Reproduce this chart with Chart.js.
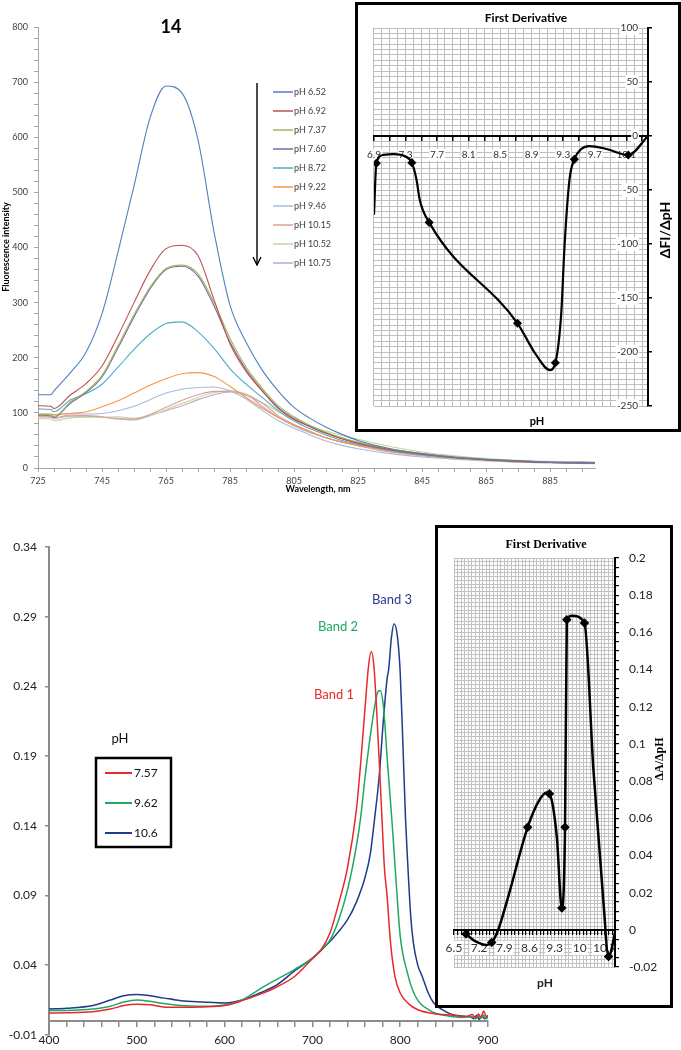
<!DOCTYPE html>
<html><head><meta charset="utf-8">
<script src="https://cdn.jsdelivr.net/npm/chart.js@4.4.1/dist/chart.umd.min.js"></script>
<style>
html,body{margin:0;padding:0;background:#fff;}
#page{position:relative;width:681px;height:1050px;overflow:hidden;background:#fff;}
canvas{position:absolute;display:block;}
.box{position:absolute;box-sizing:border-box;border:3px solid #000;background:#fff;}
.box canvas{left:0;top:0;}
</style></head><body>
<div id="page">
 <canvas id="c1" width="681" height="500" style="left:0;top:0"></canvas>
 <canvas id="c3" width="681" height="530" style="left:0;top:520px"></canvas>
 <div class="box" style="left:355px;top:2px;width:326px;height:430px"><canvas id="c2" width="320" height="424"></canvas></div>
 <div class="box" style="left:435px;top:525px;width:238px;height:483px"><canvas id="c4" width="232" height="477"></canvas></div>
</div>
<script>
// ---------------- DATA ----------------
// Top: fluorescence spectra
const topWavelength = [725,729,730,735,740,745,750,755,760,765,770,775,780,785,790,795,800,805,810,815,820,825,835,845,855,865,875,885,899];
const topLabels = ['pH 6.52','pH 6.92','pH 7.37','pH 7.60','pH 8.72','pH 9.22','pH 9.46','pH 10.15','pH 10.52','pH 10.75'];
const topColors = ['#4F81BD','#C0504D','#9BBB59','#8064A2','#4BACC6','#F79646','#A3BCDD','#DE9E9C','#C3D69B','#B9A9CF'];
const fl_652  = [133,133,140,172,210,280,392,512,635,693,680,595,428,295,228,178,140,110,90,74,61,50,35,26,20,16,13,11,10];
const fl_692  = [113,112,108,132,153,185,240,300,358,398,404,385,305,225,175,140,108,88,75,63,53,45,33,25,19,15,12,10,9];
const fl_737  = [97,96,93,119,139,168,222,278,328,362,368,352,300,235,183,145,113,93,77,65,55,47,35,26,20,16,13,11,10];
const fl_760  = [96,95,92,117,137,165,218,274,325,360,366,348,294,228,178,141,110,90,75,63,53,45,34,25,19,15,12,10,9];
const fl_872  = [107,106,102,123,135,152,183,215,243,262,265,247,217,180,152,128,104,85,71,60,50,43,32,24,19,15,12,10,9];
const fl_922  = [98,98,97,99,102,111,122,136,150,162,171,173,166,148,128,109,92,78,66,55,47,41,30,23,18,14,11,10,9];
const fl_946  = [98,97,96,99,98,99,104,112,124,136,143,146,147,140,125,105,86,72,60,49,41,35,26,20,16,13,11,9,8];
const fl_1015 = [93,93,91,96,95,93,89,89,97,110,123,133,139,139,132,118,95,79,66,55,47,40,29,22,17,14,11,10,9];
const fl_1052 = [90,89,86,91,92,92,93,90,95,106,117,128,137,140,134,119,102,88,76,67,59,52,39,29,22,17,14,12,11];
const fl_1075 = [93,92,90,94,94,92,90,87,95,104,113,124,133,138,134,112,92,76,64,55,47,42,31,24,18,14,12,10,9];
const topSeries = [fl_652,fl_692,fl_737,fl_760,fl_872,fl_922,fl_946,fl_1015,fl_1052,fl_1075];
const topXLabels = [725,745,765,785,805,825,845,865,885];
const topYLabels = [0,100,200,300,400,500,600,700,800];

// Top inset: first derivative dFI/dpH
const derivPH  = [6.9,6.93,7.02,7.15,7.3,7.38,7.44,7.48,7.6,8.72,8.95,9.13,9.2,9.275,9.316,9.379,9.441,9.53,9.63,9.85,10.125,10.375];
const derivVal = [-73,-25.3,-17.5,-16.7,-19,-24.7,-40.7,-59,-80,-173.4,-202,-216.7,-210,-164,-102.5,-40.7,-21.6,-12,-9.3,-12,-17.6,0];
const derivMarkers = [1,5,8,9,12,16,20];
const topInsetXLabels = [6.9,7.3,7.7,8.1,8.5,8.9,9.3,9.7,10.1];
const topInsetYLabels = [-250,-200,-150,-100,-50,0,50,100];

// Bottom: absorption spectra
const wlRed   = [400,420,450,470,485,500,515,530,550,575,600,620,640,660,680,700,710,720,730,740,750,755,760,764,767,770,773,775,777,780,782,785,789,794,800,810,820,840,860,875,882,886,889,892,895,898,900];
const absRed  = [0.0057,0.0058,0.0066,0.0085,0.0110,0.0120,0.0115,0.0100,0.0097,0.0100,0.0110,0.0145,0.0190,0.0245,0.0320,0.0446,0.0510,0.0630,0.0845,0.1100,0.1510,0.1850,0.2250,0.2550,0.2650,0.2550,0.2250,0.2000,0.1750,0.1350,0.1100,0.0900,0.0560,0.0320,0.0200,0.0120,0.0080,0.0050,0.0040,0.0030,0.0045,0.0020,0.0050,0.0025,0.0070,0.0030,0.0040];
const wlGreen = [400,420,450,470,485,500,515,530,550,575,600,620,640,660,680,700,710,720,730,740,750,755,760,765,770,774,777,781,785,788,791,795,800,808,817,834,850,870,882,886,889,892,895,898,900];
const absGreen= [0.0074,0.0075,0.0085,0.0105,0.0135,0.0150,0.0140,0.0125,0.0110,0.0105,0.0114,0.0150,0.0228,0.0300,0.0370,0.0450,0.0510,0.0580,0.0726,0.0940,0.1250,0.1460,0.1750,0.2000,0.2220,0.2350,0.2370,0.2250,0.1900,0.1650,0.1400,0.1030,0.0610,0.0350,0.0180,0.0074,0.0040,0.0025,0.0030,0.0015,0.0035,0.0020,0.0040,0.0015,0.0030];
const wlBlue  = [400,420,450,470,485,500,515,530,550,575,600,620,640,660,680,700,720,740,750,760,766,771,776,781,785,787,790,793,797,800,803,806,808,812,815,820,825,832,838,848,857,870,880,884,887,890,893,896,900];
const absBlue = [0.0085,0.0090,0.0110,0.0150,0.0180,0.0190,0.0180,0.0165,0.0145,0.0135,0.0128,0.0150,0.0200,0.0260,0.0360,0.0450,0.0570,0.0726,0.0850,0.1030,0.1200,0.1460,0.1750,0.2170,0.2450,0.2530,0.2750,0.2850,0.2750,0.2500,0.2000,0.1460,0.1200,0.0750,0.0560,0.0400,0.0320,0.0200,0.0130,0.0080,0.0050,0.0035,0.0030,0.0015,0.0040,0.0010,0.0035,0.0015,0.0030];
const bottomLabels = ['7.57','9.62','10.6'];
const bottomColors = ['#E8292C','#1FA864','#1F3B8A'];
const bottomXLabels = [400,500,600,700,800,900];
const bottomYLabels = [-0.01,0.04,0.09,0.14,0.19,0.24,0.29,0.34];
const bandLabels = ['Band 1','Band 2','Band 3'];

// Bottom inset: first derivative dA/dpH
const bDerivPH  = [6.834,7.1,7.41,7.55,7.73,8.01,8.55,8.85,9.08,9.155,9.36,9.5,9.59,9.64,9.78,10.13,10.38,10.66,10.8,11.0];
const bDerivVal = [-0.0023,-0.0062,-0.0081,-0.0068,0,0.0179,0.0552,0.069,0.0739,0.0732,0.0502,0.0117,0.0552,0.1668,0.1689,0.165,0.086,0.0144,-0.0144,0];
const bDerivMarkers = [0,3,6,9,11,12,13,15,18];
const bottomInsetXLabels = [6.5,7.2,7.9,8.6,9.3,10,10.7];
const bottomInsetYLabels = [-0.02,0,0.02,0.04,0.06,0.08,0.1,0.12,0.14,0.16,0.18,0.2];

// ---------------- HELPERS ----------------
const SANS = "Lato, 'Open Sans', sans-serif";
const SERIF = "'Liberation Serif', 'DejaVu Serif', serif";
Chart.defaults.font.family = SANS;
const rnd = (v, d) => Math.round(v * Math.pow(10, d)) / Math.pow(10, d);
function range(a, b, step, d) { const out = []; for (let i = 0; ; i++) { const v = rnd(a + i * step, d); if (v > b + 1e-9) break; out.push(v); } return out; }
const has = (arr, v) => arr.some(a => Math.abs(a - v) < 1e-6);
const setTicks = vals => s => { s.ticks = vals.map(v => ({value: v})); };
function txt(ctx, s, x, y, font, color, opt) {
  opt = opt || {};
  ctx.save(); ctx.font = font; ctx.fillStyle = color; ctx.textAlign = opt.align || 'center'; ctx.textBaseline = 'middle';
  ctx.translate(x, y); if (opt.rot) ctx.rotate(opt.rot); ctx.fillText(s, 0, 0); ctx.restore();
}
function line(ctx, pts, color, w) {
  ctx.save(); ctx.strokeStyle = color; ctx.lineWidth = w; ctx.beginPath();
  pts.forEach((p, i) => i ? ctx.lineTo(p[0], p[1]) : ctx.moveTo(p[0], p[1])); ctx.stroke(); ctx.restore();
}
const base = { responsive: false, animation: false, events: [], plugins: { legend: {display: false}, tooltip: {enabled: false} } };

// ---------------- CHART 1: fluorescence ----------------
new Chart(document.getElementById('c1'), {
  type: 'line',
  data: { datasets: topSeries.map((vals, i) => ({
    label: topLabels[i], data: topWavelength.map((w, j) => ({x: w, y: vals[j]})),
    borderColor: topColors[i], borderWidth: 1.1, pointRadius: 0, cubicInterpolationMode: 'monotone', fill: false,
    xAxisID: 'x', yAxisID: 'y' })) },
  options: Object.assign({}, base, {
    layout: {padding: {left: 0, top: 27, right: 86, bottom: 0}},
    scales: {
      x: { type: 'linear', min: 725, max: 899, afterBuildTicks: setTicks(range(725, 899, 5, 0)),
        afterFit: s => { s.height = 32; },
        grid: {drawOnChartArea: false, tickLength: 4, color: '#a6a6a6'}, border: {color: '#a6a6a6'},
        ticks: {autoSkip: false, maxRotation: 0, padding: 4, color: '#404040', font: {size: 9}, callback: v => has(topXLabels, v) ? String(v) : ''} },
      y: { type: 'linear', min: 0, max: 800, afterBuildTicks: setTicks(range(0, 800, 20, 0)),
        afterFit: s => { s.width = 38; },
        grid: {drawOnChartArea: false, tickLength: 4, color: '#a6a6a6'}, border: {color: '#a6a6a6'},
        ticks: {autoSkip: false, padding: 6, color: '#404040', font: {size: 9}, callback: v => has(topYLabels, v) ? String(v) : ''} }
    }
  }),
  plugins: [{ id: 'c1text', afterDraw(chart) {
    const ctx = chart.ctx;
    txt(ctx, '14', 171, 27, 'bold 18px ' + SANS, '#000');
    txt(ctx, 'Fluorescence intensity', 6, 247, 'bold 9px ' + SANS, '#000', {rot: -Math.PI / 2});
    txt(ctx, 'Wavelength, nm', 318, 489, 'bold 9px ' + SANS, '#000');
    topLabels.forEach((l, i) => {
      const y = 92 + i * 19;
      line(ctx, [[273, y], [293, y]], topColors[i], 1.5);
      txt(ctx, l, 294, y, '9px ' + SANS, '#404040', {align: 'left'});
    });
    line(ctx, [[257, 83], [257, 265]], '#000', 1.4);
    line(ctx, [[253, 257], [257, 265], [261, 257]], '#000', 1.4);
  }}]
});

// ---------------- CHART 2: top inset ----------------
new Chart(document.getElementById('c2'), {
  type: 'line',
  data: { datasets: [{ data: derivPH.map((p, i) => ({x: p, y: derivVal[i]})),
    borderColor: '#000', borderWidth: 2.2, cubicInterpolationMode: 'monotone', fill: false,
    pointRadius: derivPH.map((p, i) => derivMarkers.includes(i) ? 3 : 0), pointStyle: 'rectRot',
    pointBackgroundColor: '#000', pointBorderColor: '#000', xAxisID: 'x', yAxisID: 'y' }] },
  options: Object.assign({}, base, {
    layout: {padding: {left: 12, top: 23, right: 0, bottom: 0}},
    scales: {
      x: { type: 'linear', axis: 'x', position: 'bottom', min: 6.9, max: 10.375, afterBuildTicks: setTicks(range(6.9, 10.375, 0.1, 2)),
        afterFit: s => { s.height = 23; }, grid: {color: '#bdbdbd', drawTicks: false}, border: {display: false}, ticks: {display: false} },
      y: { type: 'linear', axis: 'y', position: 'left', min: -250, max: 100, afterBuildTicks: setTicks(range(-250, 100, 5, 0)),
        afterFit: s => { s.width = 0; }, grid: {color: '#bdbdbd', drawTicks: false}, border: {display: false}, ticks: {display: false} },
      xl: { type: 'linear', axis: 'x', position: {y: 0}, min: 6.9, max: 10.375, afterBuildTicks: setTicks(range(6.9, 10.375, 0.2, 2)),
        grid: {drawOnChartArea: false, tickLength: 4, color: '#000', lineWidth: 1.5}, border: {color: '#000', width: 2},
        ticks: {autoSkip: false, maxRotation: 0, padding: 9, color: '#333', font: {size: 10}, showLabelBackdrop: true,
          backdropColor: c => has(topInsetXLabels, c.tick.value) ? '#fff' : 'rgba(0,0,0,0)', backdropPadding: {left: 1, right: 1, top: 0, bottom: 0},
          callback: v => has(topInsetXLabels, v) ? v.toFixed(1) : ''} },
      yl: { type: 'linear', axis: 'y', position: 'right', min: -250, max: 100, afterBuildTicks: setTicks(topInsetYLabels),
        afterFit: s => { s.width = 30; },
        grid: {drawOnChartArea: false, tickLength: 4, color: '#000', lineWidth: 1.5}, border: {color: '#000', width: 2},
        ticks: {mirror: true, padding: -10, color: '#333', font: {size: 10}, showLabelBackdrop: true, backdropColor: '#fff', backdropPadding: 1,
          callback: v => String(v)} }
    }
  }),
  plugins: [{ id: 'c2text', afterDraw(chart) {
    const ctx = chart.ctx;
    txt(ctx, 'First Derivative', 168, 13, 'bold 12px ' + SANS, '#000');
    txt(ctx, 'pH', 179, 416, 'bold 11px ' + SANS, '#000');
    txt(ctx, 'ΔFI/ΔpH', 307, 225, 'bold 14px ' + SANS, '#000', {rot: -Math.PI / 2});
  }}]
});

// ---------------- CHART 3: absorption ----------------
const absSets = [[wlRed, absRed], [wlGreen, absGreen], [wlBlue, absBlue]];
new Chart(document.getElementById('c3'), {
  type: 'line',
  data: { datasets: absSets.map((s, i) => ({ label: bottomLabels[i], data: s[0].map((w, j) => ({x: w, y: s[1][j]})),
    borderColor: bottomColors[i], borderWidth: 1.5, pointRadius: 0, cubicInterpolationMode: 'monotone', fill: false,
    xAxisID: 'x', yAxisID: 'y' })) },
  options: Object.assign({}, base, {
    layout: {padding: {left: 0, top: 27, right: 193, bottom: 11}},
    scales: {
      x: { type: 'linear', axis: 'x', position: {y: 0}, min: 400, max: 900, afterBuildTicks: setTicks(range(400, 900, 20, 0)),
        grid: {drawOnChartArea: false, tickLength: 5, color: '#8c8c8c', lineWidth: 1.5}, border: {color: '#8c8c8c', width: 2},
        ticks: {autoSkip: false, maxRotation: 0, padding: 7, color: '#222', font: {size: 12}, callback: v => has(bottomXLabels, v) ? String(v) : ''} },
      y: { type: 'linear', axis: 'y', position: 'left', min: -0.01, max: 0.34, afterBuildTicks: setTicks(bottomYLabels),
        afterFit: s => { s.width = 49; },
        grid: {drawOnChartArea: false, tickLength: 4, color: '#8c8c8c', lineWidth: 1.5}, border: {color: '#8c8c8c', width: 2},
        ticks: {padding: 8, color: '#222', font: {size: 12}, callback: v => v.toFixed(2)} }
    }
  }),
  plugins: [{ id: 'c3text', afterDraw(chart) {
    const ctx = chart.ctx;
    txt(ctx, bandLabels[2], 392, 80, '13px ' + SANS, '#2B3A8E');
    txt(ctx, bandLabels[1], 338, 107, '13px ' + SANS, '#1FA864');
    txt(ctx, bandLabels[0], 334, 175, '13px ' + SANS, '#E8292C');
    txt(ctx, 'pH', 120, 219, '13px ' + SANS, '#111');
    ctx.save(); ctx.strokeStyle = '#000'; ctx.lineWidth = 2.5; ctx.strokeRect(96, 238, 75, 89); ctx.restore();
    bottomLabels.forEach((l, i) => {
      const y = 253 + i * 30;
      line(ctx, [[105, y], [132, y]], bottomColors[i], 2);
      txt(ctx, l, 134, y, '12px ' + SANS, '#111', {align: 'left'});
    });
  }}]
});

// ---------------- CHART 4: bottom inset ----------------
new Chart(document.getElementById('c4'), {
  type: 'line',
  data: { datasets: [{ data: bDerivPH.map((p, i) => ({x: p, y: bDerivVal[i]})),
    borderColor: '#000', borderWidth: 2.5, cubicInterpolationMode: 'monotone', fill: false,
    pointRadius: bDerivPH.map((p, i) => bDerivMarkers.includes(i) ? 3 : 0), pointStyle: 'rectRot',
    pointBackgroundColor: '#000', pointBorderColor: '#000', xAxisID: 'x', yAxisID: 'y' }] },
  options: Object.assign({}, base, {
    layout: {padding: {left: 16, top: 30, right: 0, bottom: 0}},
    scales: {
      x: { type: 'linear', axis: 'x', position: 'bottom', min: 6.5, max: 10.98, afterBuildTicks: setTicks(range(6.5, 10.98, 0.1, 2)),
        afterFit: s => { s.height = 38; }, grid: {color: '#c2c2c2', drawTicks: false}, border: {display: false}, ticks: {display: false} },
      y: { type: 'linear', axis: 'y', position: 'left', min: -0.02, max: 0.2, afterBuildTicks: setTicks(range(-0.02, 0.2, 0.002, 3)),
        afterFit: s => { s.width = 0; }, grid: {color: '#c2c2c2', drawTicks: false}, border: {display: false}, ticks: {display: false} },
      xl: { type: 'linear', axis: 'x', position: {y: 0}, min: 6.5, max: 10.98, afterBuildTicks: setTicks(range(6.5, 10.98, 0.1, 2)),
        grid: {drawOnChartArea: false, tickLength: 4, color: '#000', lineWidth: 1.2}, border: {color: '#000', width: 2},
        ticks: {autoSkip: false, maxRotation: 0, padding: 7, color: '#333', font: {size: 12}, showLabelBackdrop: true,
          backdropColor: c => has(bottomInsetXLabels, c.tick.value) ? '#fff' : 'rgba(0,0,0,0)', backdropPadding: {left: 1, right: 1, top: 0, bottom: 0},
          callback: v => has(bottomInsetXLabels, v) ? String(v) : ''} },
      yl: { type: 'linear', axis: 'y', position: 'right', min: -0.02, max: 0.2, afterBuildTicks: setTicks(range(-0.02, 0.2, 0.005, 3)),
        afterFit: s => { s.width = 55; },
        grid: {drawOnChartArea: false, tickLength: 4, color: '#000', lineWidth: 1.2}, border: {color: '#000', width: 2},
        ticks: {autoSkip: false, padding: 10, color: '#222', font: {size: 12}, callback: v => has(bottomInsetYLabels, v) ? String(v) : ''} }
    }
  }),
  plugins: [{ id: 'c4text', afterDraw(chart) {
    const ctx = chart.ctx;
    txt(ctx, 'First Derivative', 108, 17, 'bold 12px ' + SERIF, '#000');
    txt(ctx, 'pH', 107, 455, 'bold 12px ' + SANS, '#222');
    txt(ctx, 'ΔA/ΔpH', 222, 231, 'bold 12px ' + SERIF, '#000', {rot: -Math.PI / 2});
  }}]
});
</script>
</body></html>
